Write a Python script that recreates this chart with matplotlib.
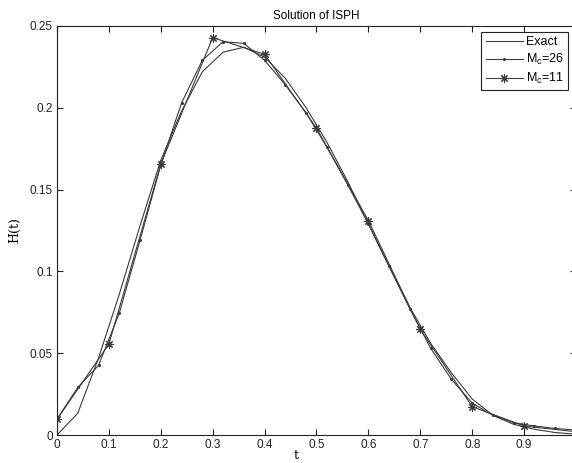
import numpy as np
import matplotlib
matplotlib.use("Agg")
from matplotlib import pyplot as plt

plt.rcParams['font.family'] = ['Liberation Sans', 'DejaVu Sans']

# exact solution, sampled every 0.04
t_exact = np.linspace(0, 1, 26)
h_exact = [0.0, 0.0133, 0.047, 0.086, 0.128, 0.168, 0.198, 0.222, 0.234,
           0.237, 0.231, 0.218, 0.200, 0.179, 0.155, 0.129, 0.103, 0.078,
           0.056, 0.038, 0.022, 0.012, 0.0065, 0.0035, 0.0015, 0.0005]

# ISPH, Mc = 26
t_26 = np.linspace(0, 1, 26)
h_26 = [0.0097, 0.0291, 0.0425, 0.0745, 0.119, 0.165, 0.203, 0.229, 0.2404,
        0.2394, 0.229, 0.214, 0.197, 0.176, 0.153, 0.129, 0.103, 0.077,
        0.053, 0.034, 0.0195, 0.0120, 0.0075, 0.0055, 0.0040, 0.0030]

# ISPH, Mc = 11
t_11 = np.linspace(0, 1, 11)
h_11 = [0.0096, 0.0556, 0.1656, 0.2429, 0.2327, 0.1875, 0.131, 0.0646,
        0.0173, 0.0055, 0.002]

x_ticks = [0, 0.1, 0.2, 0.3, 0.4, 0.5, 0.6, 0.7, 0.8, 0.9]
y_ticks = [0, 0.05, 0.1, 0.15, 0.2, 0.25]

W, H = 572, 463
fig = plt.figure(figsize=(W / 100, H / 100), dpi=100)
ax = fig.add_axes([57 / W, (H - 435) / H, (576 - 57) / W, (435 - 26) / H])

col = '#3a3a3a'
star = (8, 2, 0)
ax.plot(t_exact, h_exact, '-', color=col, lw=0.8, label='Exact')
ax.plot(t_26, h_26, '-', color=col, lw=0.8, marker='.', ms=2.5,
        label='M$_\\mathregular{c}$=26')
ax.plot(t_11, h_11, '-', color=col, lw=0.8, marker=star, ms=6, mew=0.8,
        label='M$_\\mathregular{c}$=11')

ax.set_xlim(0, 1)
ax.set_ylim(0, 0.25)
ax.set_xticks(x_ticks)
ax.set_xticklabels(['0', '0.1', '0.2', '0.3', '0.4', '0.5', '0.6', '0.7',
                    '0.8', '0.9'])
ax.set_yticks(y_ticks)
ax.set_yticklabels(['0', '0.05', '0.1', '0.15', '0.2', '0.25'])
ax.tick_params(direction='in', top=True, right=True, length=4, width=0.8,
               labelsize=8.5, colors='#222222', pad=3)
for s in ax.spines.values():
    s.set_linewidth(0.8)
    s.set_color('#222222')

ax.set_title('Solution of ISPH', fontsize=8.5, pad=5)
ax.set_xlabel('t', family='DejaVu Serif', fontsize=9)
ax.xaxis.set_label_coords((296 - 57) / (576 - 57), -0.035)
ax.set_ylabel('H(t)', family='DejaVu Serif', fontsize=9)
ax.yaxis.set_label_coords(-0.068, 0.5)

leg = ax.legend(loc='upper right', bbox_to_anchor=(568 / W, (H - 32) / H),
                bbox_transform=fig.transFigure, borderaxespad=0,
                fancybox=False, framealpha=1, edgecolor='#222222',
                fontsize=9, handlelength=3.0, handletextpad=0.2,
                borderpad=0.35, labelspacing=0.3)
leg.get_frame().set_linewidth(0.8)

fig.savefig('out.png', dpi=100)
